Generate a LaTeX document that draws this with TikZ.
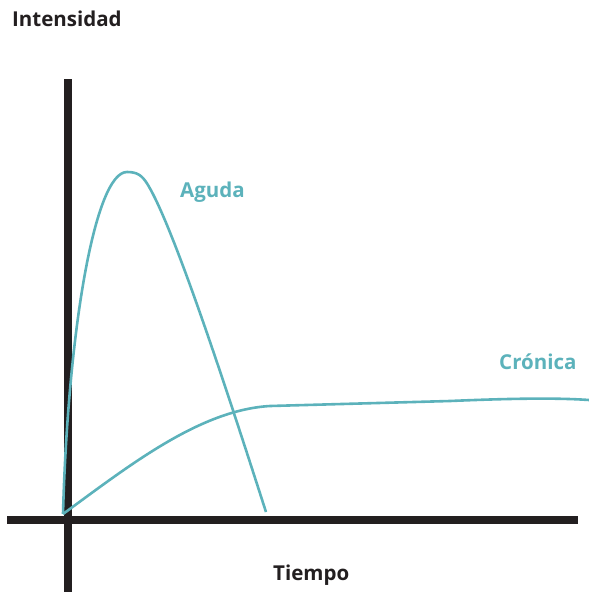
\documentclass[tikz,border=0pt]{standalone}
\usepackage{fontspec}
\setmainfont{Open Sans}
\definecolor{axisblack}{RGB}{35,31,32}
\definecolor{teal}{RGB}{92,178,187}
\tikzset{
  axisline/.style={line width=8pt, draw=axisblack},
  curveline/.style={line width=2.6pt, draw=teal},
  axislabel/.style={anchor=base west, inner sep=0pt, font=\fontsize{20.5}{24}\selectfont\bfseries, text=axisblack},
  curvelabel/.style={anchor=base west, inner sep=0pt, font=\fontsize{20.5}{24}\selectfont\bfseries, text=teal}
}
\begin{document}
\begin{tikzpicture}[x=1pt,y=-1pt]
\useasboundingbox (0,0) rectangle (589,592);
% axes
\coordinate (ytop) at (67.5,79);
\coordinate (ybot) at (67.5,592);
\coordinate (xleft) at (7,520);
\coordinate (xright) at (578,520);
\draw[axisline] (ytop) -- (ybot);
\draw[axisline] (xleft) -- (xright);
% curves
\coordinate (o) at (63,514);
\draw[curveline, line join=round] (o) .. controls (68,330) and (95,172) .. (127,172)
  .. controls (137,172) and (142,175) .. (148,185)
  .. controls (175,230) and (230,400) .. (266,512);
\draw[curveline, line join=round] (o) .. controls (130,465) and (200,410) .. (270,406)
  -- (450,401) .. controls (520,398) and (560,398) .. (589,400);
% labels
\node[axislabel] (int) at (12,26.5) {Intensidad};
\node[axislabel] (tie) at (273,580) {Tiempo};
\node[curvelabel] (agu) at (180,197) {Aguda};
\node[curvelabel] (cro) at (499,369) {Crónica};
\end{tikzpicture}
\end{document}
